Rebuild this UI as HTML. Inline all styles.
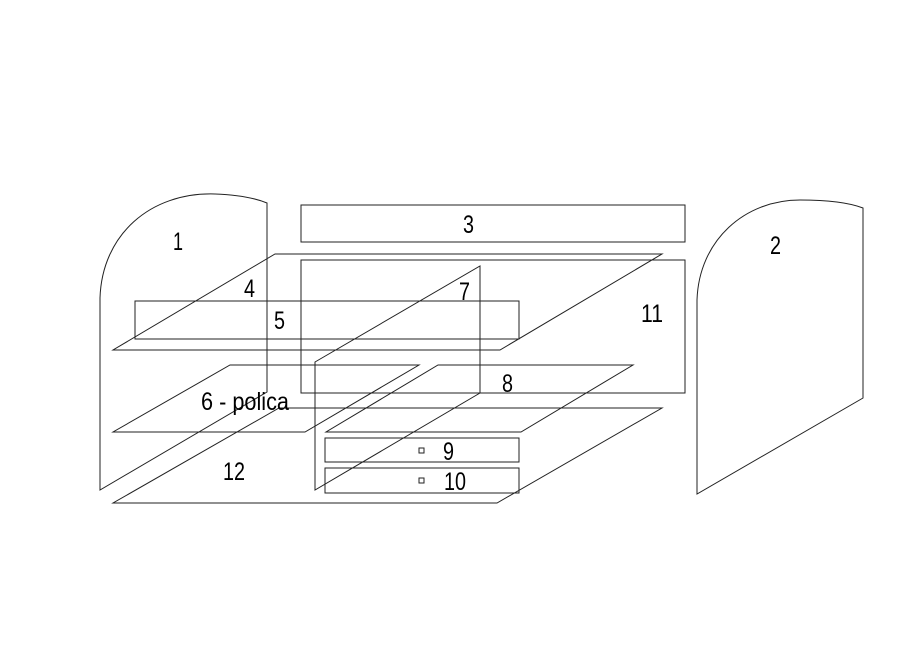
<!DOCTYPE html>
<html><head><meta charset="utf-8"><style>
html,body{margin:0;padding:0;background:#fff;}
svg{display:block}
text{font-family:"Liberation Sans",sans-serif;font-size:25px;fill:#000;}
</style></head><body>
<svg width="919" height="650" viewBox="0 0 919 650" xmlns="http://www.w3.org/2000/svg">
<g fill="none" stroke="#222" stroke-width="1">
<path d="M100,490 L100,298 C102,235 150,192 215,194 C240,195 255,198 267,203 L267,392 Z"/>
<path d="M697,494 L697,300 C699,240 745,200 800,200 C830,200 850,203 863,208 L863,398 Z"/>
<rect x="301" y="205" width="384" height="37"/>
<rect x="301" y="260" width="384" height="133"/>
<rect x="135" y="301" width="384" height="38"/>
<path d="M275,254 L662,254 L500,350 L113,350 Z"/>
<path d="M315,362 L480,266 L480,393 L315,490 Z"/>
<path d="M230,365 L419,365 L305,432 L113,432 Z"/>
<path d="M438,365 L633,365 L521,432 L326,432 Z"/>
<path d="M279,408 L662,408 L497,503 L113,503 Z"/>
<rect x="325" y="438" width="194" height="24"/>
<rect x="325" y="468" width="194" height="25"/>
<rect x="419" y="448" width="5" height="5"/>
<rect x="419" y="478" width="5" height="5"/>
</g>
<text x="173" y="250" textLength="10" lengthAdjust="spacingAndGlyphs">1</text>
<text x="770" y="254" textLength="11" lengthAdjust="spacingAndGlyphs">2</text>
<text x="463" y="233" textLength="11" lengthAdjust="spacingAndGlyphs">3</text>
<text x="244" y="297" textLength="11" lengthAdjust="spacingAndGlyphs">4</text>
<text x="274" y="329" textLength="11" lengthAdjust="spacingAndGlyphs">5</text>
<text x="459" y="300" textLength="11" lengthAdjust="spacingAndGlyphs">7</text>
<text x="641" y="322" textLength="22" lengthAdjust="spacingAndGlyphs">11</text>
<text x="502" y="392" textLength="11" lengthAdjust="spacingAndGlyphs">8</text>
<text x="201" y="410" textLength="88" lengthAdjust="spacingAndGlyphs">6 - polica</text>
<text x="223" y="480" textLength="22" lengthAdjust="spacingAndGlyphs">12</text>
<text x="443" y="460" textLength="11" lengthAdjust="spacingAndGlyphs">9</text>
<text x="444" y="490" textLength="22" lengthAdjust="spacingAndGlyphs">10</text>
</svg>
</body></html>
